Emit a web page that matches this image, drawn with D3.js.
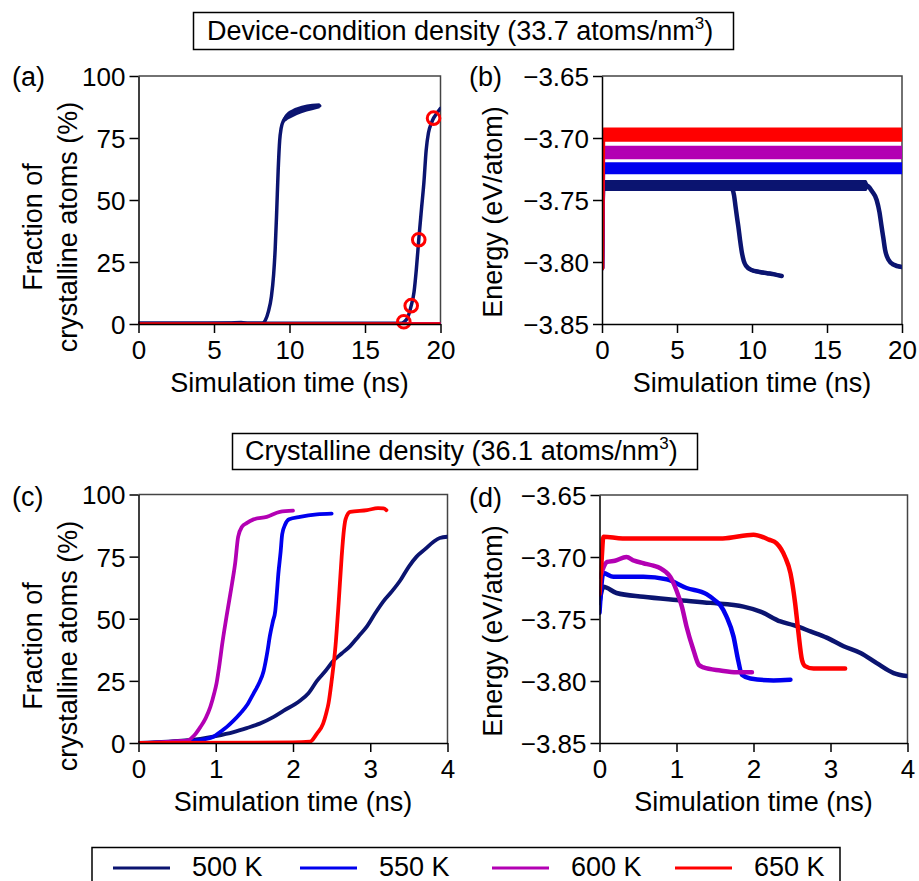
<!DOCTYPE html>
<html><head><meta charset="utf-8">
<script src="https://cdn.jsdelivr.net/npm/d3@7"></script>
<style>
body{margin:0;background:#fff}
text{font-family:"Liberation Sans",Arial,Helvetica,sans-serif;fill:#000}
</style>
</head><body>
<svg id="chart" width="919" height="881"></svg>
<script>
// ---------------- DATA ----------------
const temps = ["500 K", "550 K", "600 K", "650 K"];
const colors = ["#0b1470", "#0000ee", "#b300b3", "#ff0000"];

const titleTop = "Device-condition density (33.7 atoms/nm";
const titleBottom = "Crystalline density (36.1 atoms/nm";
const panelLetters = ["(a)", "(b)", "(c)", "(d)"];

const xTicksLong = [0, 5, 10, 15, 20];
const xTicksShort = [0, 1, 2, 3, 4];
const fracTicks = [0, 25, 50, 75, 100];
const energyTicks = [-3.85, -3.80, -3.75, -3.70, -3.65];

// (a) fraction of crystalline atoms, device-condition density  [t (ns), %, noise half-width]
const a500run1 = [[0,0.3,0],[2,0.35,0],[4,0.3,0],[6,0.4,0],[6.8,0.6,0],[7.3,0.3,0],[8.2,0.3,0],[8.4,1.5,0],[8.6,5,0],[8.8,11,0],[8.95,20,0],[9.05,30,0],[9.15,45,0],[9.25,62,0],[9.35,74,0.3],[9.45,79,0.8],[9.6,82,1.2],[9.8,83.5,1.5],[10.2,85,1.6],[10.8,86.5,1.5],[11.5,87.5,1.3],[12,88,1]];
const a500run2 = [[0,0.3,0],[5,0.35,0],[10,0.3,0],[15,0.35,0],[17.4,0.3,0],[17.6,0.9,0],[17.8,2.3,0],[18.06,7.4,0],[18.25,13,0],[18.4,22,0],[18.56,34,0],[18.75,47,0],[18.9,57,0],[19.05,70,0],[19.2,77,0.3],[19.4,81,0.6],[19.54,83,0.6],[19.7,84.5,0.6],[20,87,0.5]];
const a550 = [[0,0,0],[20,0,0]];
const a600 = [[0,0,0],[20,0,0]];
const a650 = [[0,0,0],[20,0,0]];
const aMarkT = [17.57, 18.06, 18.56, 19.54];
const aMarkV = [0.9, 7.4, 34, 83];

// (b) energy, device-condition density  [t (ns), eV/atom, noise half-width]
const b500run1 = [[0,-3.805,0],[0.08,-3.7383,0.0045],[4,-3.7383,0.0045],[8.5,-3.7383,0.0045],[8.65,-3.740,0.002],[8.8,-3.746,0.001],[8.9,-3.755,0.001],[9.0,-3.764,0.001],[9.09,-3.7715,0.001],[9.2,-3.782,0.001],[9.32,-3.792,0.001],[9.45,-3.799,0.001],[9.6,-3.803,0.0015],[9.97,-3.8065,0.0015],[10.5,-3.808,0.0015],[11,-3.809,0.0015],[11.5,-3.810,0.0015],[11.98,-3.8113,0.0015]];
const b500run2 = [[0,-3.805,0],[0.08,-3.7383,0.0045],[8,-3.7383,0.0045],[17.6,-3.7383,0.0045],[17.75,-3.739,0.002],[18.0,-3.743,0.001],[18.31,-3.750,0.001],[18.5,-3.760,0.001],[18.64,-3.7715,0.001],[18.76,-3.781,0.001],[18.87,-3.790,0.001],[19.09,-3.798,0.0015],[19.42,-3.802,0.0015],[19.98,-3.804,0.0015]];
const b550 = [[0,-3.805,0],[0.08,-3.7244,0.0049],[10,-3.7244,0.0049],[20,-3.7244,0.0049]];
const b600 = [[0,-3.805,0],[0.08,-3.7117,0.0054],[10,-3.7117,0.0054],[20,-3.7117,0.0054]];
const b650 = [[0,-3.805,0],[0.08,-3.6973,0.0058],[10,-3.6973,0.0058],[20,-3.6973,0.0058]];

// (c) fraction of crystalline atoms, crystalline density  [t (ns), %]
const c500 = [[0,0],[0.37,0.5],[0.6,1],[0.8,1.7],[1.0,2.8],[1.23,4.4],[1.4,6],[1.57,7.8],[1.75,10.5],[1.88,13],[2.09,17],[2.2,20],[2.31,25],[2.42,29],[2.52,33],[2.63,36],[2.74,39],[2.85,43],[2.96,47],[3.06,52],[3.17,57],[3.28,61],[3.39,65.5],[3.5,71],[3.6,75],[3.71,78],[3.82,81],[3.9,82.5],[4.0,83]];
const c550 = [[0,0],[0.5,0.2],[0.7,0.8],[0.85,1.5],[0.97,2.5],[1.06,4.5],[1.14,6.4],[1.23,9],[1.32,12],[1.41,15.5],[1.49,20],[1.56,24],[1.62,29],[1.67,37],[1.7,43],[1.74,49],[1.77,53],[1.79,60],[1.81,68],[1.84,77],[1.86,84],[1.9,88],[1.95,90],[2.09,91],[2.31,92],[2.5,92.3]];
const c600 = [[0,0],[0.3,0.3],[0.55,0.8],[0.63,1],[0.72,3],[0.8,6.4],[0.87,10],[0.93,14.5],[0.98,20],[1.01,24],[1.05,32],[1.08,39],[1.14,51],[1.21,64],[1.25,72],[1.29,83],[1.34,87],[1.4,88.5],[1.49,90],[1.66,91],[1.83,93],[2.0,93.5]];
const c650 = [[0,0],[2.0,0.2],[2.22,0.5],[2.31,3.8],[2.39,7.8],[2.43,12],[2.46,16],[2.5,25],[2.55,39],[2.59,56],[2.63,75],[2.66,86],[2.68,90],[2.74,93],[2.96,93.7],[3.1,94.5],[3.17,94.4],[3.21,93.7]];

// (d) energy, crystalline density  [t (ns), eV/atom]
const d500 = [[0,-3.737],[0.05,-3.724],[0.22,-3.729],[0.57,-3.732],[1.0,-3.7346],[1.44,-3.737],[1.87,-3.74],[2.09,-3.744],[2.35,-3.752],[2.52,-3.755],[2.74,-3.760],[2.95,-3.765],[3.17,-3.772],[3.39,-3.7775],[3.6,-3.7856],[3.82,-3.7936],[3.99,-3.796]];
const d550 = [[0,-3.745],[0.05,-3.713],[0.18,-3.716],[0.57,-3.716],[0.87,-3.718],[1.13,-3.725],[1.39,-3.73],[1.5,-3.735],[1.57,-3.739],[1.65,-3.748],[1.74,-3.764],[1.8,-3.783],[1.85,-3.795],[1.96,-3.798],[2.26,-3.7995],[2.48,-3.799]];
const d600 = [[0.01,-3.716],[0.1,-3.704],[0.2,-3.703],[0.35,-3.700],[0.45,-3.703],[0.57,-3.705],[0.7,-3.707],[0.79,-3.709],[0.86,-3.712],[0.92,-3.716],[1.0,-3.727],[1.07,-3.74],[1.13,-3.756],[1.22,-3.775],[1.29,-3.787],[1.35,-3.789],[1.57,-3.7915],[1.78,-3.793],[1.98,-3.793]];
const d650 = [[0,-3.73],[0.03,-3.70],[0.05,-3.6836],[0.3,-3.685],[1.0,-3.685],[1.6,-3.685],[2.0,-3.682],[2.2,-3.686],[2.3,-3.689],[2.41,-3.70],[2.48,-3.713],[2.54,-3.737],[2.58,-3.759],[2.63,-3.783],[2.67,-3.788],[2.78,-3.790],[2.95,-3.790],[3.19,-3.790]];

// ---------------- DRAW ----------------
const svg = d3.select("#chart");
const FONT_TICK = 26, FONT_LABEL = 27;

const fmtFrac = d => String(d);
const fmtEnergy = d => d3.format(".2f")(d).replace("-", "\u2212");

function panel(cfg) {
  const x = d3.scaleLinear().domain(cfg.xd).range([cfg.x0, cfg.x1]);
  const y = d3.scaleLinear().domain(cfg.yd).range([cfg.y1, cfg.y0]);
  const g = svg.append("g");
  const clipId = "clip" + cfg.id;
  svg.append("clipPath").attr("id", clipId).append("rect")
    .attr("x", cfg.x0).attr("y", cfg.y0 - 20).attr("width", cfg.x1 - cfg.x0).attr("height", cfg.y1 - cfg.y0 + 20);

  // frame (top & right)
  g.append("path")
    .attr("d", `M${cfg.x0},${cfg.y0}H${cfg.x1}V${cfg.y1}`)
    .attr("fill", "none").attr("stroke", "#444").attr("stroke-width", 1.5);

  const data = g.append("g").attr("clip-path", `url(#${clipId})`);
  cfg.series.forEach(s => {
    if (s.band) {
      const area = d3.area().curve(d3.curveMonotoneX)
        .x(d => x(d[0])).y0(d => y(d[1] - d[2])).y1(d => y(d[1] + d[2]));
      data.append("path").datum(s.data).attr("d", area).attr("fill", s.color);
    }
    const line = d3.line().curve(d3.curveMonotoneX).x(d => x(d[0])).y(d => y(d[1]));
    data.append("path").datum(s.data).attr("d", line)
      .attr("fill", "none").attr("stroke", s.color).attr("stroke-width", s.width)
      .attr("stroke-linejoin", "round").attr("stroke-linecap", "round");
  });

  if (cfg.marks) {
    g.selectAll("circle.mk").data(cfg.marks.t.map((t, i) => [t, cfg.marks.v[i]]))
      .enter().append("circle").attr("class", "mk")
      .attr("cx", d => x(d[0])).attr("cy", d => y(d[1])).attr("r", 6.3)
      .attr("fill", "none").attr("stroke", "#ff0000").attr("stroke-width", 3);
  }

  // axes
  const ax = g.append("g").attr("transform", `translate(0,${cfg.y1})`)
    .call(d3.axisBottom(x).tickValues(cfg.xt).tickSize(9).tickSizeOuter(0).tickFormat(d => String(d)));
  ax.selectAll("text").attr("y", 35).attr("dy", null).style("font-size", FONT_TICK + "px");
  const ay = g.append("g").attr("transform", `translate(${cfg.x0},0)`)
    .call(d3.axisLeft(y).tickValues(cfg.yt).tickSize(9).tickSizeOuter(0).tickPadding(4).tickFormat(cfg.yf));
  ay.selectAll("text").attr("dy", "0.36em").style("font-size", FONT_TICK + "px");
  [ax, ay].forEach(a => {
    a.select(".domain").attr("stroke", "#000").attr("stroke-width", 1.5);
    a.selectAll(".tick line").attr("stroke", "#000").attr("stroke-width", 1.5);
    a.attr("font-family", null);
  });

  // x label
  g.append("text").attr("x", (cfg.x0 + cfg.x1) / 2).attr("y", cfg.y1 + 68)
    .attr("text-anchor", "middle").style("font-size", FONT_LABEL + "px").text("Simulation time (ns)");
  // y label
  const yl = g.append("text").attr("transform", `translate(${cfg.ylx},${cfg.ylc}) rotate(-90)`)
    .attr("text-anchor", "middle").style("font-size", FONT_LABEL + "px");
  if (cfg.ylabel.length === 2) {
    yl.append("tspan").attr("x", 0).attr("y", 0).text(cfg.ylabel[0]);
    yl.append("tspan").attr("x", 0).attr("y", 35).text(cfg.ylabel[1]);
  } else {
    yl.text(cfg.ylabel[0]);
  }
  // panel letter
  g.append("text").attr("x", cfg.lx).attr("y", cfg.ly).style("font-size", FONT_LABEL + "px").text(cfg.letter);
}

function seriesSet(arrs, width, band) {
  return arrs.map(a => ({ data: a.d, color: colors[a.c], width, band }));
}

panel({ id: "a", letter: panelLetters[0], lx: 12, ly: 86,
  x0: 138.5, x1: 440.5, y0: 76, y1: 324, xd: [0, 20], yd: [0, 100], xt: xTicksLong, yt: fracTicks, yf: fmtFrac,
  ylabel: ["Fraction of", "crystalline atoms (%)"], ylx: 42, ylc: 227,
  series: seriesSet([{d: a550, c: 1}, {d: a600, c: 2}, {d: a500run1, c: 0}, {d: a500run2, c: 0}, {d: a650, c: 3}], 3.5, true),
  marks: { t: aMarkT, v: aMarkV } });

panel({ id: "b", letter: panelLetters[1], lx: 469, ly: 86,
  x0: 602, x1: 902, y0: 76, y1: 324, xd: [0, 20], yd: [-3.85, -3.65], xt: xTicksLong, yt: energyTicks, yf: fmtEnergy,
  ylabel: ["Energy (eV/atom)"], ylx: 502, ylc: 212,
  series: seriesSet([{d: b500run1, c: 0}, {d: b500run2, c: 0}, {d: b550, c: 1}, {d: b600, c: 2}, {d: b650, c: 3}], 4.5, true) });

panel({ id: "c", letter: panelLetters[2], lx: 12, ly: 506,
  x0: 138.5, x1: 447.5, y0: 494.5, y1: 743, xd: [0, 4], yd: [0, 100], xt: xTicksShort, yt: fracTicks, yf: fmtFrac,
  ylabel: ["Fraction of", "crystalline atoms (%)"], ylx: 42, ylc: 646,
  series: seriesSet([{d: c500, c: 0}, {d: c550, c: 1}, {d: c600, c: 2}, {d: c650, c: 3}], 3.8, false) });

panel({ id: "d", letter: panelLetters[3], lx: 469, ly: 507,
  x0: 599.5, x1: 907.5, y0: 495, y1: 743, xd: [0, 4], yd: [-3.85, -3.65], xt: xTicksShort, yt: energyTicks, yf: fmtEnergy,
  ylabel: ["Energy (eV/atom)"], ylx: 502, ylc: 631,
  series: seriesSet([{d: d500, c: 0}, {d: d550, c: 1}, {d: d600, c: 2}, {d: d650, c: 3}], 4.5, false) });

// titles
function titleBox(text, x0, x1, y0, y1, tx) {
  svg.append("rect").attr("x", x0).attr("y", y0).attr("width", x1 - x0).attr("height", y1 - y0)
    .attr("fill", "#fff").attr("stroke", "#000").attr("stroke-width", 1.5);
  const t = svg.append("text").attr("x", tx).attr("y", y1 - 10).style("font-size", "27px");
  t.append("tspan").text(text);
  t.append("tspan").attr("dy", -11).style("font-size", "17px").text("3");
  t.append("tspan").attr("dy", 11).text(")");
}
titleBox(titleTop, 193.5, 733.5, 12.5, 49.5, 207);
titleBox(titleBottom, 232.5, 697.5, 433.5, 469.5, 245);

// legend
svg.append("rect").attr("x", 92).attr("y", 847.5).attr("width", 748).attr("height", 60)
  .attr("fill", "#fff").attr("stroke", "#000").attr("stroke-width", 1.5);
const legX = [113, 300, 492, 675];
const lg = svg.selectAll("g.leg").data(temps).enter().append("g").attr("class", "leg")
  .attr("transform", (d, i) => `translate(${legX[i]},868)`);
lg.append("line").attr("x1", 0).attr("x2", 57).attr("y1", 0).attr("y2", 0)
  .attr("stroke", (d, i) => colors[i]).attr("stroke-width", 3);
lg.append("text").attr("x", 79).attr("y", 7.5).style("font-size", "27px").text(d => d);
</script>
</body></html>
